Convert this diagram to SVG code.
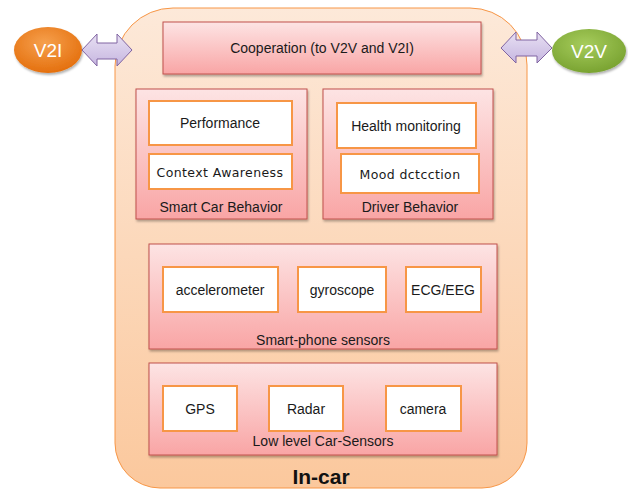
<svg xmlns="http://www.w3.org/2000/svg" width="628" height="491" viewBox="0 0 628 491">
<defs>
<linearGradient id="gOuter" x1="0" y1="0" x2="0" y2="1"><stop offset="0" stop-color="#fde9d9"/><stop offset="1" stop-color="#fbc89d"/></linearGradient>
<linearGradient id="gPink" x1="0" y1="0" x2="0" y2="1"><stop offset="0" stop-color="#fde4e4"/><stop offset="1" stop-color="#f9a5a5"/></linearGradient>
<radialGradient id="gOrange" cx="0.45" cy="0.35" r="0.7"><stop offset="0" stop-color="#f6a04d"/><stop offset="1" stop-color="#e36c09"/></radialGradient>
<radialGradient id="gGreen" cx="0.45" cy="0.35" r="0.7"><stop offset="0" stop-color="#a6cc5c"/><stop offset="1" stop-color="#76a02e"/></radialGradient>
<linearGradient id="gArrow" x1="0" y1="0" x2="0" y2="1"><stop offset="0" stop-color="#e8e0f3"/><stop offset="1" stop-color="#c6b6e0"/></linearGradient>
<filter id="sh" x="-5%" y="-5%" width="115%" height="120%"><feDropShadow dx="1" dy="2" stdDeviation="1.2" flood-color="#000" flood-opacity="0.3"/></filter>
</defs>
<style>
.pink{fill:url(#gPink);stroke:#c0504d;stroke-width:1;filter:url(#sh)}
.white{fill:#fff;stroke:#f79646;stroke-width:2}
.t{font-family:"Liberation Sans","Open Sans",sans-serif;font-size:14px;fill:#1a1a1a;text-anchor:middle}
.t2{font-family:"DejaVu Sans",sans-serif;font-size:12.5px;letter-spacing:0.4px;fill:#1a1a1a;text-anchor:middle}
.arrow{fill:url(#gArrow);stroke:#8064a2;stroke-width:1}
</style>
<g id="in-car">
<path d="M173,8 H470 A57,57 0 0 1 527,65 V443 A45,45 0 0 1 482,488 H160 A45,45 0 0 1 115,443 V66 A58,58 0 0 1 173,8 Z" fill="url(#gOuter)" stroke="#f79646" stroke-width="1"/>
<text x="321" y="484" style="font-family:'Liberation Sans',sans-serif;font-size:21px;font-weight:bold;fill:#111;text-anchor:middle">In-car</text>
</g>
<g id="cooperation">
<rect class="pink" x="163" y="22" width="318" height="52"/>
<text class="t" x="322" y="53">Cooperation (to V2V and V2I)</text>
</g>
<g id="v2i">
<ellipse cx="48" cy="50" rx="34" ry="23" fill="url(#gOrange)" filter="url(#sh)"/>
<text x="48" y="57" style="font-family:'Liberation Sans',sans-serif;font-size:19px;fill:#fff;text-anchor:middle">V2I</text>
</g>
<g id="v2v">
<ellipse cx="589" cy="51" rx="37" ry="22" fill="url(#gGreen)" filter="url(#sh)"/>
<text x="589" y="58" style="font-family:'Liberation Sans',sans-serif;font-size:19px;fill:#fff;text-anchor:middle">V2V</text>
</g>
<g id="connectors">
<path class="arrow" d="M82,50 L97,34 V43 H117 V34 L132,50 L117,66 V59 H97 V66 Z"/>
<path class="arrow" d="M501,48 L516,32 V40 H537 V32 L552,48 L537,63 V56 H516 V63 Z"/>
</g>
<g id="smart-car-behavior">
<rect class="pink" x="136" y="89" width="171" height="130"/>
<text class="t" x="221" y="212">Smart Car Behavior</text>
</g>
<g id="performance">
<rect class="white" x="149" y="101" width="143" height="44"/>
<text class="t" x="220" y="128">Performance</text>
</g>
<g id="context-awareness">
<rect class="white" x="149" y="154" width="143" height="35"/>
<text class="t2" x="220" y="177">Context Awareness</text>
</g>
<g id="driver-behavior">
<rect class="pink" x="323" y="89" width="170" height="130"/>
<text class="t" x="410" y="212">Driver Behavior</text>
</g>
<g id="health-monitoring">
<rect class="white" x="337" y="103" width="139" height="45"/>
<text class="t" x="406" y="131">Health monitoring</text>
</g>
<g id="mood-detection">
<rect class="white" x="341" y="154" width="138" height="39"/>
<text class="t2" x="410" y="179">Mood dctcction</text>
</g>
<g id="smart-phone-sensors">
<rect class="pink" x="149" y="244" width="348" height="105"/>
<text class="t" x="323" y="345">Smart-phone sensors</text>
</g>
<g id="accelerometer">
<rect class="white" x="163" y="267" width="115" height="45"/>
<text class="t" x="220" y="295">accelerometer</text>
</g>
<g id="gyroscope">
<rect class="white" x="298" y="267" width="88" height="45"/>
<text class="t" x="342" y="295">gyroscope</text>
</g>
<g id="ecg-eeg">
<rect class="white" x="406" y="267" width="75" height="45"/>
<text class="t" x="443" y="295">ECG/EEG</text>
</g>
<g id="low-level-car-sensors">
<rect class="pink" x="149" y="363" width="348" height="92"/>
<text class="t" x="323" y="446">Low level Car-Sensors</text>
</g>
<g id="gps">
<rect class="white" x="163" y="386" width="74" height="45"/>
<text class="t" x="200" y="414">GPS</text>
</g>
<g id="radar">
<rect class="white" x="269" y="386" width="74" height="45"/>
<text class="t" x="306" y="414">Radar</text>
</g>
<g id="camera">
<rect class="white" x="386" y="386" width="75" height="45"/>
<text class="t" x="423" y="414">camera</text>
</g>
</svg>
